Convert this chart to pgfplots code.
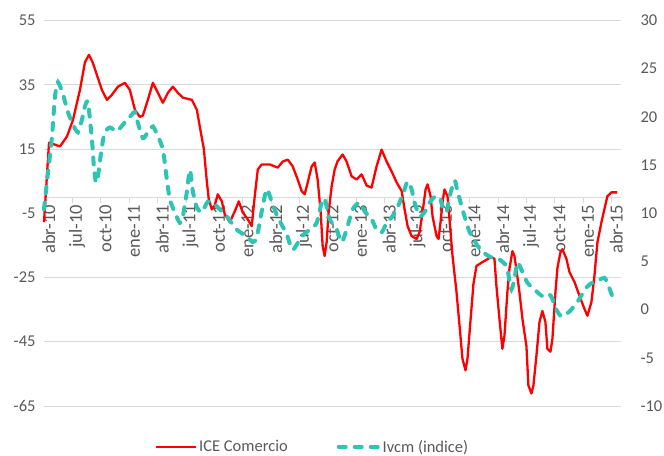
\documentclass[border=0pt]{standalone}
\usepackage{pgfplots}
\pgfplotsset{compat=1.18}
\usepackage{fontspec}
\setmainfont{Carlito}
\definecolor{txtgray}{HTML}{595959}
\definecolor{gridgray}{HTML}{D9D9D9}
\definecolor{ivteal}{RGB}{46,196,180}
\definecolor{icered}{HTML}{FF0000}
\begin{document}
\begin{tikzpicture}
\pgfplotsset{
  common/.style={
    scale only axis, width=577bp, height=385.5bp,
    xmin=-0.5, xmax=60.5,
    at={(0,0)}, anchor=south west,
    font=\fontsize{16.5bp}{19bp}\selectfont,
    tick label style={font=\fontsize{16.5bp}{19bp}\selectfont, text=txtgray},
    /pgf/number format/assume math mode=true,
    clip=false,
  }
}
\begin{axis}[common,
  ymin=-65, ymax=55,
  axis y line*=left, axis x line*=middle,
  y axis line style={draw=none},
  x axis line style={draw=gridgray, line width=0.75bp, -},
  ytick={-65,-45,...,55},
  ytick style={draw=none},
  yticklabel style={xshift=-5bp},
  extra y ticks={-65,-45,-25,15,35,55},
  extra y tick labels={},
  extra y tick style={ymajorgrids=true},
  grid style={gridgray, line width=0.75bp},
  xtick={0,3,...,60},
  xticklabels={abr-10,jul-10,oct-10,ene-11,abr-11,jul-11,oct-11,ene-12,abr-12,jul-12,oct-12,ene-13,abr-13,jul-13,oct-13,ene-14,abr-14,jul-14,oct-14,ene-15,abr-15},
  xticklabel style={rotate=90, anchor=east, font=\fontsize{18.5bp}{21bp}\selectfont},
  xticklabel shift=4bp,
  xtick style={draw=none},
  extra x ticks={2.5,5.5,...,59.5},
  extra x tick labels={},
  extra x tick style={xtick style={draw=gridgray, line width=0.75bp}, tick align=outside, major tick length=6bp},
  legend style={at={(0.4653,-0.106)}, anchor=center, draw=none, fill=none, legend columns=2,
    font=\fontsize{16.5bp}{19bp}\selectfont, text=txtgray,
    /tikz/every even column/.append style={column sep=47bp}},
  legend image code/.code={\draw[#1] (0bp,0bp) -- (40bp,0bp);},
]
\addplot[icered, line width=2.3bp, line join=round] coordinates {
(-0.50,-7.8) (0.03,17) (1.19,15.8) (1.93,18.9) (2.56,24) (3.30,33.4) (3.83,42) (4.25,44.3) (4.67,41.8) (5.62,33.4) (6.15,30.3) (6.68,31.9) (7.31,34.4) (8.05,35.6) (8.58,33.4) (9.11,27.2) (9.63,25) (9.95,25.4) (10.48,30.3) (11.01,35.6) (11.54,32.5) (12.07,29.4) (12.60,32.5) (13.12,34.4) (13.65,32.5) (14.18,31) (15.13,30.3) (15.66,27.2) (15.97,22) (16.40,15) (16.71,5) (16.92,-0.7) (17.24,-3.8) (17.56,-2.5) (17.87,0.9) (18.30,-1.3) (18.61,-5.3) (19.14,-7.8) (19.67,-4.4) (20.09,-1.3) (20.51,-4.7) (21.04,-6.9) (21.46,-9) (21.78,0.3) (22.10,8.6) (22.52,10.2) (23.37,10.2) (24.21,9.2) (24.74,11.1) (25.27,11.7) (25.79,9.6) (26.32,5.5) (26.74,1.9) (27.06,0.9) (27.38,4.6) (27.80,9.6) (28.12,10.8) (28.43,5.5) (28.75,-4.7) (28.96,-15.2) (29.17,-18.3) (29.38,-14) (29.59,-4.7) (29.91,3.4) (30.23,8.6) (30.54,11.2) (31.07,13.3) (31.49,11.1) (32.02,6.5) (32.55,5.5) (33.08,7.1) (33.61,3.6) (34.13,3) (34.66,9.6) (35.19,14.8) (35.72,11.1) (36.25,8) (36.78,4.6) (37.31,1.9) (37.62,-3.8) (37.94,-9) (38.36,-12.1) (38.89,-13) (39.21,-10.9) (39.52,-4.7) (39.84,2.4) (40.05,4) (40.37,0.3) (40.58,-6) (41.00,-12.1) (41.21,-13) (41.42,-7.8) (41.63,-1.5) (41.84,2.4) (42.16,0.3) (42.37,-6.9) (42.69,-18.3) (43.11,-29.5) (43.43,-40) (43.74,-50.3) (44.06,-53.9) (44.27,-50.3) (44.6,-38) (44.9,-27) (45.22,-21.4) (45.85,-20.2) (46.80,-18.6) (47.12,-19.2) (47.33,-27.6) (47.65,-37.9) (47.96,-47.2) (48.18,-43.1) (48.49,-29.5) (48.70,-22.4) (49.02,-16.8) (49.23,-18.3) (49.44,-22.4) (49.76,-29.5) (50.08,-37.9) (50.50,-46.3) (50.71,-58.6) (51.03,-61.1) (51.24,-58.6) (51.56,-49.3) (51.88,-38.9) (52.19,-35.4) (52.51,-38.9) (52.72,-47.2) (53.04,-48.1) (53.25,-44.1) (53.57,-29.5) (53.78,-22) (54.10,-17.1) (54.31,-16.2) (54.73,-19.2) (55.05,-23.3) (55.58,-26.4) (56.11,-30.7) (56.64,-34.8) (56.95,-36.9) (57.37,-32.7) (57.69,-24.5) (58.01,-14) (58.43,-7.8) (58.74,-3.8) (59.06,0.3) (59.48,1.5) (60.1,1.5)
};
\addlegendentry{ICE Comercio}
\addlegendimage{ivteal, line width=4bp, dash pattern=on 7bp off 9bp, line cap=round}
\addlegendentry{Ivcm (indice)}
\end{axis}
\begin{axis}[common,
  ymin=-10, ymax=30,
  axis y line*=right, axis x line=none,
  y axis line style={draw=none},
  ytick={-10,-5,...,30},
  ytick style={draw=none},
  yticklabel style={xshift=16bp},
]
\addplot[ivteal, line width=4bp, dash pattern=on 7bp off 9bp, line cap=round, smooth, tension=0.4] coordinates {
(-0.50,10.4) (-0.08,14.2) (0.34,17.9) (0.66,22.1) (0.98,23.6) (1.51,22.3) (2.03,20.5) (2.56,19.2) (3.09,18.4) (3.51,19.7) (3.83,21.1) (4.15,21.5) (4.57,17.6) (4.78,14.8) (4.99,13.2) (5.20,13.8) (5.62,16.9) (5.94,18.4) (6.47,18.9) (7.20,18.5) (7.84,19.2) (8.58,20) (9.11,20.5) (9.42,19.4) (9.95,17.8) (10.48,18.4) (11.01,19) (11.54,18) (12.07,16.6) (12.49,13.5) (12.81,11.4) (13.33,10.1) (13.86,9) (14.18,9.7) (14.60,12.2) (14.92,14.5) (15.23,12.3) (15.66,10.6) (16.18,10.1) (16.82,11.2) (17.56,10.9) (18.40,10.1) (18.82,9.7) (19.88,8.3) (20.93,7.6) (21.57,7) (21.99,7.5) (22.52,10.2) (23.05,12.5) (23.57,11.2) (24.21,9.6) (25.16,7.8) (25.79,6.2) (26.74,7.6) (27.59,8.3) (28.33,9) (28.85,11.1) (29.17,11.5) (29.70,9.4) (30.44,8.3) (30.97,7) (31.49,8.3) (32.13,10.4) (32.86,11.1) (33.39,10.2) (34.13,9.4) (34.66,8.3) (35.19,8) (35.72,9) (36.35,9.7) (37.09,11.1) (37.62,12.5) (37.94,13.3) (38.36,12.5) (38.68,11.1) (39.21,9.7) (39.73,10.1) (40.26,11.1) (40.79,11.7) (41.32,11.7) (41.63,10.7) (42.05,10.1) (42.37,11.7) (42.90,13.4) (43.21,12.3) (43.74,10.4) (44.17,9) (44.48,8.1) (45.22,6.8) (45.85,6) (46.80,5.4) (47.65,5.2) (48.39,4.5) (48.70,3.1) (48.92,2.1) (49.23,3.1) (49.55,4.9) (50.08,3.9) (50.60,2.8) (51.34,2.1) (52.19,1.4) (52.93,1.6) (53.25,1.1) (53.67,0) (54.20,-0.7) (55.05,-0.2) (55.89,0.8) (56.84,2.3) (57.48,2.8) (58.21,3.1) (58.74,3.3) (59.06,2.8) (59.58,1.4) (60.01,0.9)
};
\end{axis}
\pgfresetboundingbox
\useasboundingbox (-44bp,-50bp) rectangle (620bp,406bp);
\end{tikzpicture}
\end{document}
